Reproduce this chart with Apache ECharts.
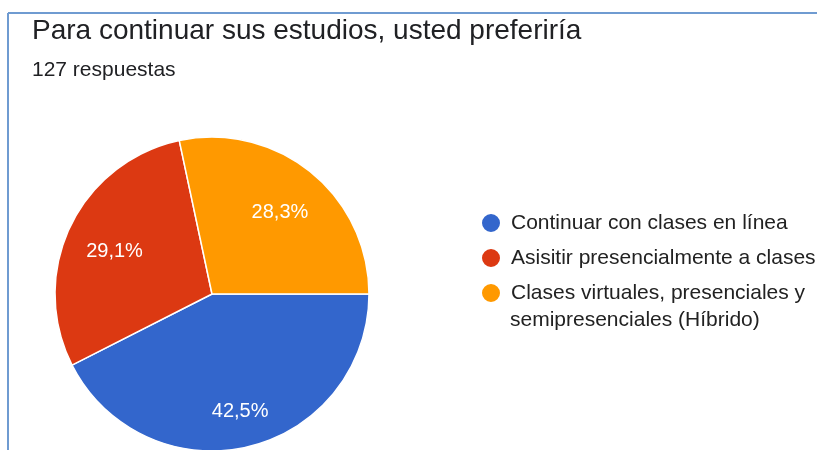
<!DOCTYPE html>
<html>
<head>
    <meta charset="utf-8">
    <title>Para continuar sus estudios</title>
    <script src="https://cdn.jsdelivr.net/npm/echarts@6/dist/echarts.min.js"></script>
    <style>
        html, body { margin: 0; padding: 0; background: #fff; }
        #main { width: 817px; height: 450px; }
    </style>
</head>
<body>
    <div id="main"></div>
    <script type="text/javascript">
        // respuestas (127 en total)
        var categories = [
            'Continuar con clases en línea',
            'Asisitir presencialmente a clases',
            'Clases virtuales, presenciales y\nsemipresenciales (Híbrido)'
        ];
        var counts = [54, 37, 36];
        var colors = ['#3366cc', '#dc3912', '#ff9900'];

        var total = counts.reduce(function (a, b) { return a + b; }, 0);
        var font = '"Liberation Sans", Arial, sans-serif';

        var chart = echarts.init(document.getElementById('main'), null, { renderer: 'canvas' });

        function pct(v) {
            return (v / total * 100).toFixed(1).replace('.', ',') + '%';
        }

        var pieData = categories.map(function (name, i) {
            return { name: name, value: counts[i], itemStyle: { color: colors[i] } };
        });

        // invisible copy, only used to place the labels further out
        var labelOffsets = [[3, 12], [0, 4], [0, 2]];
        var labelData = categories.map(function (name, i) {
            return { name: name, value: counts[i], label: { offset: labelOffsets[i] } };
        });

        // legend shows first line only, the wrapped part is drawn below it
        var wrapped = categories[2].split('\n')[1];

        var option = {
            animation: false,
            textStyle: { fontFamily: font },
            title: [{
                text: 'Para continuar sus estudios, usted preferiría',
                left: 27,
                top: 12,
                textStyle: { fontSize: 28, fontWeight: 'normal', color: '#202124', fontFamily: font }
            }, {
                text: '127 respuestas',
                left: 27,
                top: 55,
                textStyle: { fontSize: 21, fontWeight: 'normal', color: '#202124', fontFamily: font }
            }],
            legend: {
                orient: 'vertical',
                left: 475,
                top: 207,
                icon: 'circle',
                itemWidth: 20,
                itemHeight: 20,
                itemGap: 13,
                selectedMode: false,
                data: categories,
                textStyle: {
                    fontSize: 21,
                    color: '#222',
                    fontFamily: font,
                    padding: [0, 0, 0, 5]
                },
                formatter: function (name) { return name.split('\n')[0]; }
            },
            graphic: [{
                type: 'line',
                shape: { x1: 8, y1: 13, x2: 817, y2: 13 },
                style: { stroke: '#6f9bd1', lineWidth: 2 }
            }, {
                type: 'line',
                shape: { x1: 8, y1: 13, x2: 8, y2: 450 },
                style: { stroke: '#6f9bd1', lineWidth: 2 }
            }, {
                type: 'text',
                left: 510,
                top: 310,
                style: { text: wrapped, fontSize: 21, fill: '#222', fontFamily: font }
            }],
            series: [{
                type: 'pie',
                center: [212, 294],
                radius: [0, 157],
                startAngle: 0,
                clockwise: true,
                silent: true,
                data: pieData,
                itemStyle: { borderColor: '#fff', borderWidth: 1.5 },
                label: { show: false },
                labelLine: { show: false }
            }, {
                type: 'pie',
                center: [212, 294],
                radius: [0, 210],
                startAngle: 0,
                clockwise: true,
                silent: true,
                data: labelData,
                itemStyle: { color: 'rgba(0,0,0,0)', borderWidth: 0 },
                label: {
                    show: true,
                    position: 'inside',
                    color: '#fff',
                    fontSize: 20,
                    fontFamily: font,
                    formatter: function (p) { return pct(p.value); }
                },
                labelLine: { show: false },
                z: 3
            }]
        };

        chart.setOption(option);
    </script>
</body>
</html>
